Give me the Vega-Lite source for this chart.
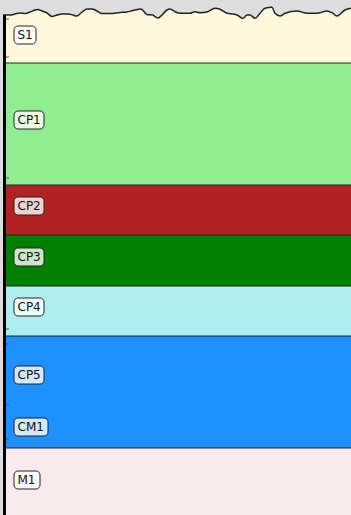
{
  "$schema": "https://vega.github.io/schema/vega-lite/v6.json",
  "width": 351,
  "height": 515,
  "padding": 0,
  "autosize": "none",
  "config": {"view": {"stroke": null, "fill": "#dddddd"}},
  "datasets": {
    "bands": [
      {"unit": "S1", "top": 5, "bottom": 63, "color": "cornsilk"},
      {"unit": "CP1", "top": 63, "bottom": 185, "color": "lightgreen"},
      {"unit": "CP2", "top": 185, "bottom": 235, "color": "firebrick"},
      {"unit": "CP3", "top": 235, "bottom": 286, "color": "green"},
      {"unit": "CP4", "top": 286, "bottom": 336, "color": "paleturquoise"},
      {"unit": "CP5", "top": 336, "bottom": 405, "color": "dodgerblue"},
      {"unit": "CM1", "top": 405, "bottom": 448, "color": "dodgerblue"},
      {"unit": "M1", "top": 448, "bottom": 515, "color": "#f8eaed"}
    ],
    "bounds": [{"d": 63}, {"d": 185}, {"d": 235}, {"d": 286}, {"d": 336}, {"d": 448}],
    "labels": [
      {"label": "S1", "d": 35},
      {"label": "CP1", "d": 120},
      {"label": "CP2", "d": 206},
      {"label": "CP3", "d": 257},
      {"label": "CP4", "d": 307},
      {"label": "CP5", "d": 375},
      {"label": "CM1", "d": 427},
      {"label": "M1", "d": 480}
    ],
    "ticks": [{"d": 19}, {"d": 57}, {"d": 178}, {"d": 228}, {"d": 284}, {"d": 329}, {"d": 344}, {"d": 405}, {"d": 439}],
    "wave": [
      {"x": 3, "y": 15}, {"x": 10, "y": 15}, {"x": 15, "y": 14}, {"x": 20, "y": 13}, {"x": 25, "y": 13.5},
      {"x": 30, "y": 12}, {"x": 35, "y": 10}, {"x": 38, "y": 9.5}, {"x": 42, "y": 11}, {"x": 47, "y": 13},
      {"x": 52, "y": 16.5}, {"x": 57, "y": 15}, {"x": 62, "y": 14}, {"x": 68, "y": 14}, {"x": 73, "y": 15},
      {"x": 77, "y": 16}, {"x": 82, "y": 12}, {"x": 87, "y": 9}, {"x": 92, "y": 9}, {"x": 97, "y": 11},
      {"x": 102, "y": 13.5}, {"x": 110, "y": 13.5}, {"x": 120, "y": 12.5}, {"x": 127, "y": 12},
      {"x": 133, "y": 10.5}, {"x": 141, "y": 9}, {"x": 147, "y": 14.5}, {"x": 153, "y": 15},
      {"x": 155, "y": 16.7}, {"x": 158, "y": 18}, {"x": 162, "y": 15}, {"x": 167, "y": 10},
      {"x": 170, "y": 9}, {"x": 175, "y": 11.7}, {"x": 180, "y": 13.3}, {"x": 190, "y": 13.3},
      {"x": 195, "y": 11.7}, {"x": 200, "y": 12.7}, {"x": 207, "y": 12}, {"x": 215, "y": 8.3},
      {"x": 220, "y": 9.3}, {"x": 227, "y": 13.3}, {"x": 233, "y": 14}, {"x": 237, "y": 15},
      {"x": 243, "y": 18.3}, {"x": 247, "y": 15}, {"x": 250, "y": 15}, {"x": 255, "y": 18.3},
      {"x": 260, "y": 13.3}, {"x": 265, "y": 8.3}, {"x": 272, "y": 7.3}, {"x": 275, "y": 13.3},
      {"x": 280, "y": 16}, {"x": 285, "y": 13.3}, {"x": 297, "y": 11}, {"x": 307, "y": 13.3},
      {"x": 317, "y": 13.3}, {"x": 327, "y": 11}, {"x": 332, "y": 12.7}, {"x": 337, "y": 16},
      {"x": 345, "y": 10}, {"x": 351, "y": 8.3}
    ]
  },
  "resolve": {"scale": {"x": "shared", "y": "shared"}},
  "layer": [
    {
      "data": {"name": "bands"},
      "transform": [{"calculate": "6", "as": "xa"}, {"calculate": "351", "as": "xb"}],
      "mark": {"type": "rect"},
      "encoding": {
        "x": {"field": "xa", "type": "quantitative", "scale": {"domain": [0, 351], "nice": false, "zero": false}, "axis": null},
        "x2": {"field": "xb"},
        "y": {"field": "top", "type": "quantitative", "scale": {"domain": [0, 515], "nice": false, "zero": false, "reverse": true}, "axis": null},
        "y2": {"field": "bottom"},
        "color": {"field": "color", "type": "nominal", "scale": null, "legend": null}
      }
    },
    {
      "data": {"name": "bounds"},
      "transform": [{"calculate": "6", "as": "xa"}, {"calculate": "351", "as": "xb"}],
      "mark": {"type": "rule", "color": "#222222", "strokeWidth": 1.2},
      "encoding": {
        "x": {"field": "xa", "type": "quantitative"},
        "x2": {"field": "xb"},
        "y": {"field": "d", "type": "quantitative"}
      }
    },
    {
      "data": {"name": "wave"},
      "transform": [{"calculate": "0", "as": "y0"}],
      "mark": {"type": "area", "color": "#dddddd", "interpolate": "monotone", "opacity": 1},
      "encoding": {
        "x": {"field": "x", "type": "quantitative"},
        "y": {"field": "y", "type": "quantitative"},
        "y2": {"field": "y0"}
      }
    },
    {
      "data": {"name": "wave"},
      "mark": {"type": "line", "color": "#222222", "strokeWidth": 1.5, "interpolate": "monotone"},
      "encoding": {
        "x": {"field": "x", "type": "quantitative"},
        "y": {"field": "y", "type": "quantitative"}
      }
    },
    {
      "data": {"values": [{"top": 15, "bottom": 515}]},
      "transform": [{"calculate": "3", "as": "xa"}, {"calculate": "6", "as": "xb"}],
      "mark": {"type": "rect", "color": "#000000"},
      "encoding": {
        "x": {"field": "xa", "type": "quantitative"},
        "x2": {"field": "xb"},
        "y": {"field": "top", "type": "quantitative"},
        "y2": {"field": "bottom"}
      }
    },
    {
      "data": {"name": "ticks"},
      "transform": [{"calculate": "6", "as": "xa"}, {"calculate": "9", "as": "xb"}],
      "mark": {"type": "rule", "color": "#555555", "strokeWidth": 1},
      "encoding": {
        "x": {"field": "xa", "type": "quantitative"},
        "x2": {"field": "xb"},
        "y": {"field": "d", "type": "quantitative"}
      }
    },
    {
      "data": {"name": "labels"},
      "transform": [
        {"calculate": "datum.d - 9", "as": "b0"},
        {"calculate": "datum.d + 9", "as": "b1"},
        {"calculate": "14", "as": "bx0"},
        {"calculate": "14 + 8 * length(datum.label) + 6 + (indexof(datum.label, 'M') >= 0 ? 4 : 0)", "as": "bx1"}
      ],
      "mark": {"type": "rect", "fill": "white", "fillOpacity": 0.8, "stroke": "#222222", "strokeWidth": 1, "cornerRadius": 4},
      "encoding": {
        "x": {"field": "bx0", "type": "quantitative"},
        "x2": {"field": "bx1"},
        "y": {"field": "b0", "type": "quantitative"},
        "y2": {"field": "b1"}
      }
    },
    {
      "data": {"name": "labels"},
      "transform": [{"calculate": "14", "as": "bx0"}],
      "mark": {"type": "text", "align": "left", "baseline": "middle", "font": "DejaVu Sans", "fontSize": 12, "color": "#111111", "dx": 3.5},
      "encoding": {
        "x": {"field": "bx0", "type": "quantitative"},
        "y": {"field": "d", "type": "quantitative"},
        "text": {"field": "label"}
      }
    }
  ]
}
